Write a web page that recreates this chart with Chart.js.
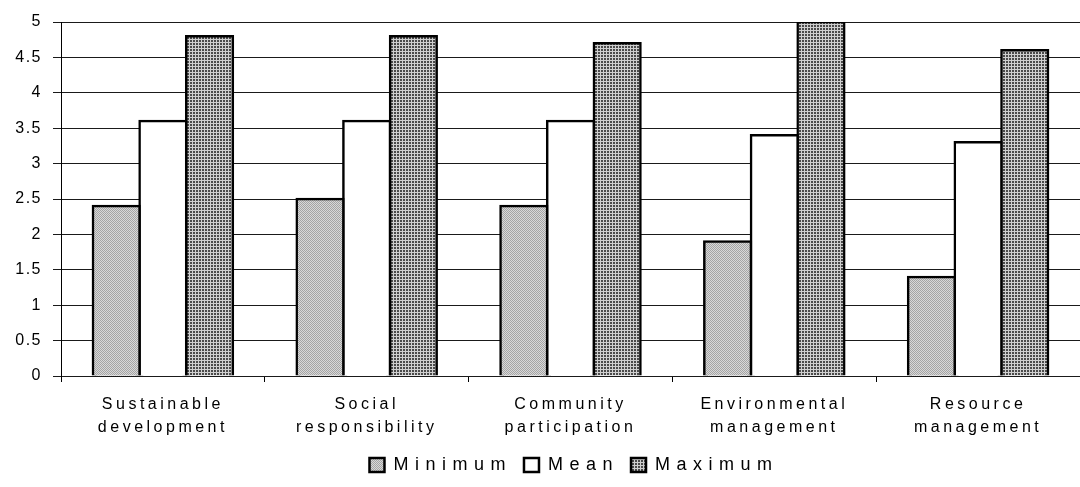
<!DOCTYPE html>
<html>
<head>
<meta charset="utf-8">
<script src="https://cdn.jsdelivr.net/npm/chart.js@4"></script>
<style>
  html, body { margin: 0; padding: 0; background: #fff; }
  #wrap { width: 1080px; height: 487px; }
</style>
</head>
<body>
<div id="wrap"><canvas id="c" width="1080" height="487"></canvas></div>
<script>
const categories = [
  ['Sustainable', 'development'],
  ['Social', 'responsibility'],
  ['Community', 'participation'],
  ['Environmental', 'management'],
  ['Resource', 'management']
];
const minimumValues = [2.4, 2.5, 2.4, 1.9, 1.4];
const meanValues    = [3.6, 3.6, 3.6, 3.4, 3.3];
const maximumValues = [4.8, 4.8, 4.7, 5.0, 4.6];
const seriesNames = ['Minimum', 'Mean', 'Maximum'];
const yTicks = [0, 0.5, 1, 1.5, 2, 2.5, 3, 3.5, 4, 4.5, 5];

const ctx2d = document.getElementById('c').getContext('2d');

// Fine light-grey hatch for the minimum bars
function hatchPattern() {
  const t = document.createElement('canvas');
  t.width = 4; t.height = 4;
  const g = t.getContext('2d');
  g.fillStyle = '#d8d8d8';
  g.fillRect(0, 0, 4, 4);
  g.fillStyle = '#a4a4a4';
  for (let i = 0; i < 4; i++) { g.fillRect(i, i, 1, 1); g.fillRect(i, (i + 2) % 4, 1, 1); }
  return ctx2d.createPattern(t, 'repeat');
}
// Dark checked grid for the maximum bars
function gridPattern() {
  const t = document.createElement('canvas');
  t.width = 3; t.height = 3;
  const g = t.getContext('2d');
  g.fillStyle = '#4a4a4a';
  g.fillRect(0, 0, 3, 3);
  g.fillStyle = '#cfcfcf';
  g.fillRect(0, 0, 3, 1);
  g.fillRect(0, 0, 1, 3);
  return ctx2d.createPattern(t, 'repeat');
}

// Widely tracked lettering: each box measures and draws with its own spacing
function withSpacing(obj, spacing, shiftX) {
  if (!obj || obj.__spaced) return;
  obj.__spaced = true;
  ['update', 'fit', 'draw'].forEach(m => {
    const orig = obj[m];
    if (typeof orig !== 'function') return;
    obj[m] = function (...args) {
      const c = this.ctx;
      c.save();
      c.letterSpacing = spacing;
      if (m === 'draw' && shiftX) c.translate(shiftX, 0);
      try { return orig.apply(this, args); } finally { c.restore(); }
    };
  });
}
const tracking = {
  id: 'tracking',
  beforeLayout(chart) {
    withSpacing(chart.scales.x, '3.5px');
    withSpacing(chart.scales.y, '1.5px');
    withSpacing(chart.legend, '6.5px', 34);
  }
};

Chart.defaults.font.family = '"Liberation Sans", Arial, sans-serif';
Chart.defaults.color = '#000';

new Chart(document.getElementById('c'), {
  type: 'bar',
  data: {
    labels: categories,
    datasets: [
      { label: seriesNames[0], data: minimumValues, backgroundColor: hatchPattern() },
      { label: seriesNames[1], data: meanValues, backgroundColor: '#fff' },
      { label: seriesNames[2], data: maximumValues, backgroundColor: gridPattern() }
    ]
  },
  plugins: [tracking],
  options: {
    responsive: false,
    animation: false,
    devicePixelRatio: 1,
    layout: { padding: { top: 22, right: 0, left: 0, bottom: 3 } },
    datasets: {
      bar: {
        categoryPercentage: 0.687, barPercentage: 1.0,
        borderColor: '#000', borderWidth: 2.5, inflateAmount: 1.25
      }
    },
    plugins: {
      legend: {
        position: 'bottom',
        labels: { font: { size: 18 }, boxWidth: 15, boxHeight: 14, padding: 12, color: '#000' }
      },
      tooltip: { enabled: false }
    },
    scales: {
      x: {
        offset: true,
        grid: { offset: true, drawOnChartArea: false, drawTicks: true, tickLength: 6, color: '#000' },
        border: { color: '#000', width: 1 },
        ticks: { font: { size: 16, lineHeight: 1.38 }, color: '#000', maxRotation: 0, padding: 12 },
        afterFit(scale) { scale.height = 68; }
      },
      y: {
        min: 0, max: 5,
        afterBuildTicks(scale) { scale.ticks = yTicks.map(v => ({ value: v })); },
        ticks: { font: { size: 16 }, color: '#000', padding: 11, callback: v => String(v) },
        grid: { color: '#1a1a1a', lineWidth: 1, tickLength: 8 },
        border: { color: '#000', width: 1 },
        afterFit(scale) { scale.width = 61; }
      }
    }
  }
});
</script>
</body>
</html>
